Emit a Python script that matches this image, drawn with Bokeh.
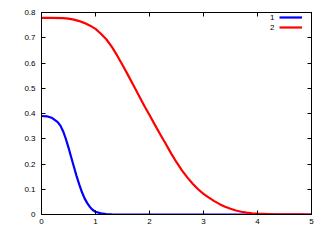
from bokeh.plotting import figure
from bokeh.models import (Range1d, LinearAxis, FixedTicker, Legend, LegendItem,
                          CustomJSTickFormatter, Label)
from bokeh.embed import file_html
from bokeh.resources import INLINE

x_blue = [0, 0.1, 0.2, 0.3, 0.35, 0.4, 0.45, 0.5, 0.55, 0.6, 0.65, 0.7, 0.75, 0.8, 0.85,
          0.9, 0.95, 1.0, 1.1, 1.2, 1.3, 1.5, 2, 3, 4, 5]
y_blue = [0.390, 0.389, 0.382, 0.366, 0.352, 0.330, 0.300, 0.265, 0.227, 0.189, 0.152,
          0.118, 0.088, 0.063, 0.044, 0.029, 0.018, 0.011, 0.0045, 0.0015, 0.0005, 0,
          0, 0, 0, 0]

x_red = [0, 0.2, 0.4, 0.5, 0.6, 0.7, 0.8, 0.9, 1.0, 1.1, 1.2, 1.3, 1.4, 1.5, 1.6, 1.7,
         1.8, 1.9, 2.0, 2.1, 2.2, 2.3, 2.4, 2.5, 2.6, 2.7, 2.8, 2.9, 3.0, 3.1, 3.2, 3.3,
         3.4, 3.5, 3.6, 3.7, 3.8, 3.9, 4.0, 4.2, 4.4, 4.7, 5.0]
y_red = [0.779, 0.779, 0.778, 0.776, 0.772, 0.766, 0.758, 0.748, 0.735, 0.716, 0.694,
         0.665, 0.630, 0.592, 0.553, 0.513, 0.472, 0.432, 0.394, 0.355, 0.317, 0.280,
         0.242, 0.207, 0.175, 0.147, 0.122, 0.100, 0.082, 0.067, 0.053, 0.041, 0.031,
         0.023, 0.016, 0.011, 0.0075, 0.005, 0.0033, 0.0015, 0.0006, 0.0001, 0]

series_names = ["1", "2"]
x_ticks = [0, 1, 2, 3, 4, 5]
y_ticks = [0, 0.1, 0.2, 0.3, 0.4, 0.5, 0.6, 0.7, 0.8]

FONT = "Liberation Sans"

p = figure(width=320, height=240, output_backend="svg", toolbar_location=None,
           x_range=Range1d(0, 5), y_range=Range1d(0, 0.8),
           min_border_left=41, min_border_right=9, min_border_top=12, min_border_bottom=26)
p.grid.visible = False
p.outline_line_color = "black"
p.outline_line_width = 1
p.background_fill_color = "white"
p.border_fill_color = "white"

for ax in (p.xaxis[0], p.yaxis[0]):
    ax.major_tick_in = 4
    ax.major_tick_out = 0
    ax.minor_tick_in = 0
    ax.minor_tick_out = 0
    ax.major_label_text_font = FONT
    ax.major_label_text_font_size = "8px"
    ax.major_label_text_color = "black"
    ax.axis_line_color = "black"
    ax.major_tick_line_color = "black"
p.xaxis[0].ticker = FixedTicker(ticks=x_ticks)
p.yaxis[0].ticker = FixedTicker(ticks=y_ticks)
p.xaxis[0].major_label_standoff = 4
p.yaxis[0].major_label_standoff = 6

empty = CustomJSTickFormatter(code="return ''")
top = LinearAxis(ticker=FixedTicker(ticks=x_ticks), formatter=empty,
                 major_tick_in=4, major_tick_out=0, minor_tick_in=0, minor_tick_out=0,
                 major_label_standoff=0, major_label_text_font_size="1px")
right = LinearAxis(ticker=FixedTicker(ticks=y_ticks), formatter=empty,
                   major_tick_in=4, major_tick_out=0, minor_tick_in=0, minor_tick_out=0,
                   major_label_standoff=0, major_label_text_font_size="1px")
p.add_layout(top, "above")
p.add_layout(right, "right")

r1 = p.line(x_blue, y_blue, line_color="#0000ff", line_width=2.2, line_join="round")
r2 = p.line(x_red, y_red, line_color="#ff0000", line_width=2.2, line_join="round")

# legend: sample lines from a Legend, names as labels to their left (gnuplot style)
legend = Legend(items=[LegendItem(label=" ", renderers=[r1]),
                       LegendItem(label=" ", renderers=[r2])],
                location=(238, 182), border_line_color=None, background_fill_alpha=0,
                glyph_width=23, glyph_height=10, label_height=10, spacing=0,
                label_text_font_size="1px", label_standoff=0,
                padding=0, margin=0)
p.add_layout(legend)
for i, name in enumerate(series_names):
    p.add_layout(Label(x=233, y=197 - 10 * i, x_units="screen", y_units="screen",
                       text=name, text_align="right", text_baseline="middle",
                       text_font=FONT, text_font_size="8px", text_color="black"))

open("out.html", "w").write(file_html(p, INLINE))
